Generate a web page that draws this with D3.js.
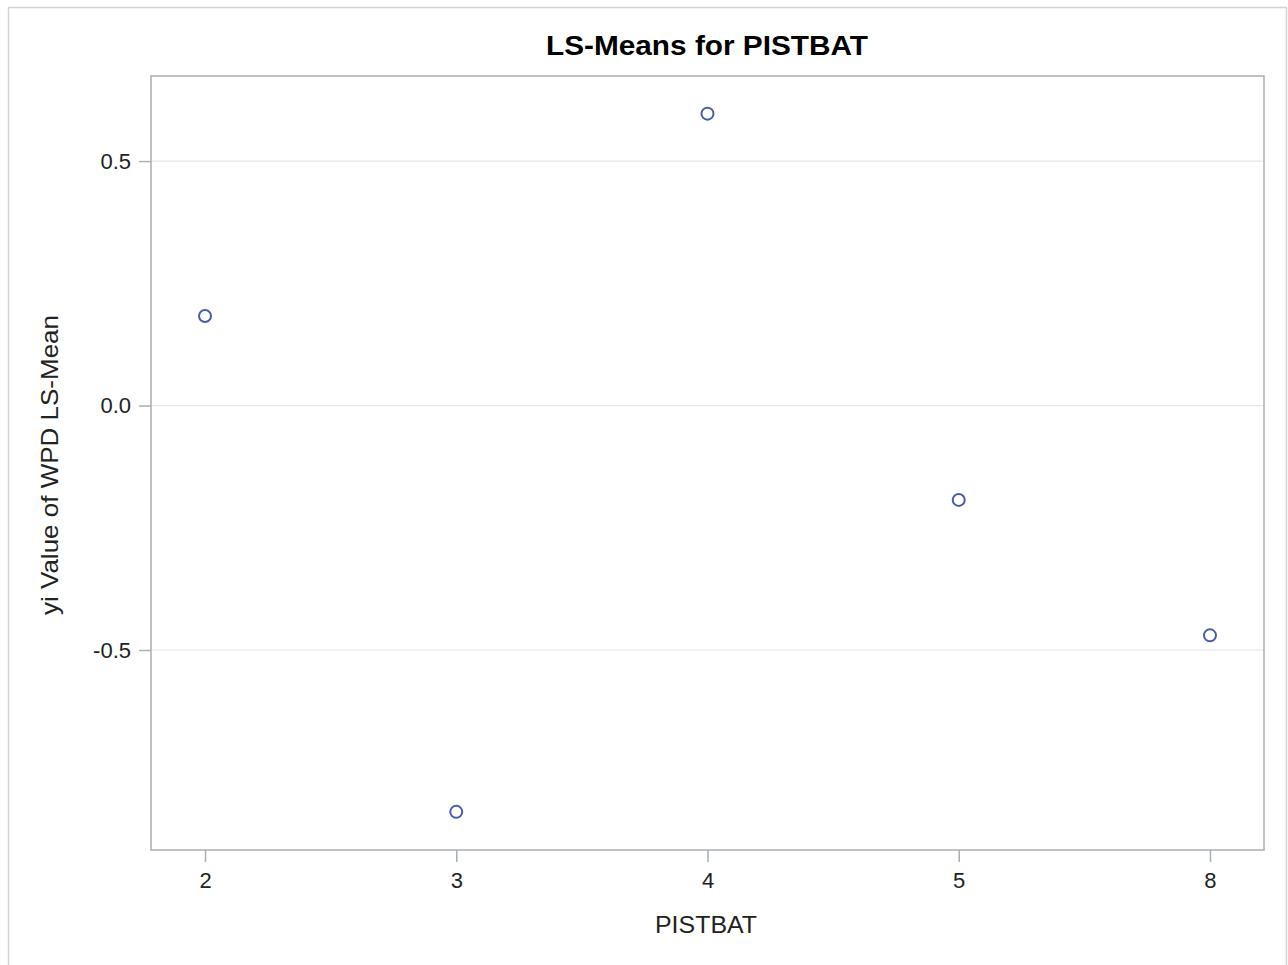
<!DOCTYPE html>
<html><head><meta charset="utf-8">
<script src="https://cdn.jsdelivr.net/npm/d3@7"></script>
<style>body{margin:0;background:#fff;font-family:"Liberation Sans",Arial,sans-serif;}</style>
</head><body>
<svg id="c" width="1288" height="965"></svg>
<script>
const categories = ["2","3","4","5","8"];
const lsmeans = [0.183, -0.831, 0.597, -0.193, -0.470];
const yTicks = [-0.5, 0.0, 0.5];
const titleText = "LS-Means for PISTBAT";
const xLabel = "PISTBAT";
const yLabel = "yi Value of WPD LS-Mean";

const svg = d3.select("#c");
const L = 151, R = 1264, T = 76, B = 850;
svg.append("rect").attr("x",8.5).attr("y",7.5).attr("width",1278).attr("height",970)
  .attr("fill","none").attr("stroke","#d4d4d4").attr("stroke-width",1.5);

const x = d3.scalePoint().domain(categories).range([L,R]).padding(0.215);
const y = d3.scaleLinear().domain([-0.909, 0.674]).range([B,T]);

// grid
svg.append("g").selectAll("line").data(yTicks).join("line")
  .attr("x1",L).attr("x2",R).attr("y1",d=>y(d)).attr("y2",d=>y(d))
  .attr("stroke","#e6e6e6").attr("stroke-width",1.2);

const fmt = d => d3.format(".1f")(d).replace("−","-");
const yAxis = svg.append("g").attr("transform",`translate(${L},0)`)
  .call(d3.axisLeft(y).tickValues(yTicks).tickFormat(fmt).tickSize(12).tickPadding(8));
const xAxis = svg.append("g").attr("transform",`translate(0,${B})`)
  .call(d3.axisBottom(x).tickSize(12).tickPadding(10));
[yAxis,xAxis].forEach(g=>{
  g.select(".domain").remove();
  g.selectAll(".tick line").attr("stroke","#a9afb4").attr("stroke-width",1.5);
  g.selectAll(".tick text").attr("fill","#222").style("font-size","22px").style("font-family","Liberation Sans, Arial, sans-serif");
});

svg.append("rect").attr("x",L).attr("y",T).attr("width",R-L).attr("height",B-T)
  .attr("fill","none").attr("stroke","#a9afb4").attr("stroke-width",1.5);

svg.append("g").selectAll("circle").data(categories).join("circle")
  .attr("cx",d=>x(d)).attr("cy",(d,i)=>y(lsmeans[i])).attr("r",6)
  .attr("fill","none").attr("stroke","#4a5ea8").attr("stroke-width",2);

svg.append("text").attr("x",707).attr("y",55).attr("text-anchor","middle")
  .attr("textLength",322).attr("lengthAdjust","spacingAndGlyphs")
  .style("font-size","27px").style("font-weight","bold").attr("fill","#000").text(titleText);
svg.append("text").attr("x",706).attr("y",933).attr("text-anchor","middle")
  .attr("textLength",102).attr("lengthAdjust","spacingAndGlyphs")
  .style("font-size","24px").attr("fill","#222").text(xLabel);
svg.append("text").attr("transform","translate(58,465) rotate(-90)").attr("text-anchor","middle")
  .attr("textLength",300).attr("lengthAdjust","spacingAndGlyphs")
  .style("font-size","24px").attr("fill","#222").text(yLabel);
</script>
</body></html>
